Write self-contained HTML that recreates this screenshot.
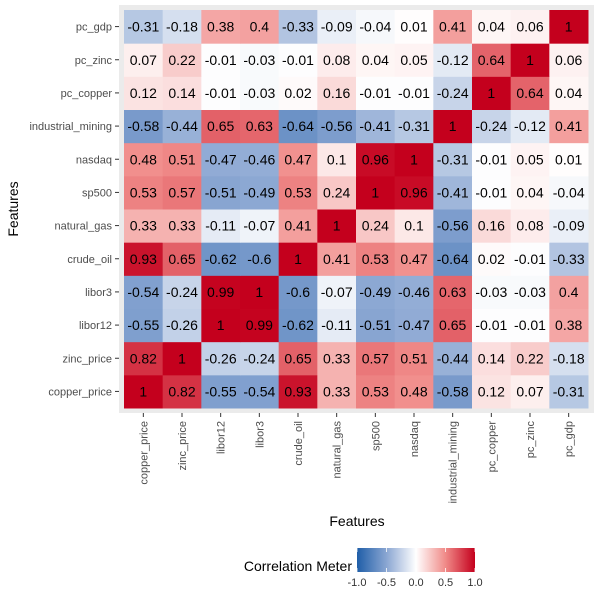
<!DOCTYPE html>
<html><head><meta charset="utf-8"><style>
body{margin:0;background:#fff;}
svg{font-family:"Liberation Sans",Arial,sans-serif;}
</style></head><body>
<svg id="chart" width="600" height="600">
<rect x="119" y="5" width="475" height="408" fill="#ebebeb"/>
<g id="cells"></g><g id="xticks"></g><g id="yticks"></g>
<text x="357" y="526" font-size="14" text-anchor="middle" fill="#000">Features</text>
<text transform="translate(18,209) rotate(-90)" font-size="14" text-anchor="middle" fill="#000">Features</text>
<defs><linearGradient id="lg" x1="0" x2="1" y1="0" y2="0">
<stop offset="0" stop-color="#1f5ea8"/><stop offset="0.25" stop-color="#8aa6d2"/><stop offset="0.5" stop-color="#ffffff"/><stop offset="0.75" stop-color="#f08a88"/><stop offset="1" stop-color="#c4001d"/></linearGradient></defs>
<g>
<text x="352" y="571" font-size="14" text-anchor="end" fill="#000">Correlation Meter</text>
<rect x="357" y="548" width="118" height="24" fill="url(#lg)"/>
<g id="legticks"></g>
</g>
</svg>
<script>
const vars=["copper_price","zinc_price","libor12","libor3","crude_oil","natural_gas","sp500","nasdaq","industrial_mining","pc_copper","pc_zinc","pc_gdp"];
const r_copper_price=[1,0.82,-0.55,-0.54,0.93,0.33,0.53,0.48,-0.58,0.12,0.07,-0.31];
const r_zinc_price=[0.82,1,-0.26,-0.24,0.65,0.33,0.57,0.51,-0.44,0.14,0.22,-0.18];
const r_libor12=[-0.55,-0.26,1,0.99,-0.62,-0.11,-0.51,-0.47,0.65,-0.01,-0.01,0.38];
const r_libor3=[-0.54,-0.24,0.99,1,-0.6,-0.07,-0.49,-0.46,0.63,-0.03,-0.03,0.4];
const r_crude_oil=[0.93,0.65,-0.62,-0.6,1,0.41,0.53,0.47,-0.64,0.02,-0.01,-0.33];
const r_natural_gas=[0.33,0.33,-0.11,-0.07,0.41,1,0.24,0.1,-0.56,0.16,0.08,-0.09];
const r_sp500=[0.53,0.57,-0.51,-0.49,0.53,0.24,1,0.96,-0.41,-0.01,0.04,-0.04];
const r_nasdaq=[0.48,0.51,-0.47,-0.46,0.47,0.1,0.96,1,-0.31,-0.01,0.05,0.01];
const r_industrial_mining=[-0.58,-0.44,0.65,0.63,-0.64,-0.56,-0.41,-0.31,1,-0.24,-0.12,0.41];
const r_pc_copper=[0.12,0.14,-0.01,-0.03,0.02,0.16,-0.01,-0.01,-0.24,1,0.64,0.04];
const r_pc_zinc=[0.07,0.22,-0.01,-0.03,-0.01,0.08,0.04,0.05,-0.12,0.64,1,0.06];
const r_pc_gdp=[-0.31,-0.18,0.38,0.4,-0.33,-0.09,-0.04,0.01,0.41,0.04,0.06,1];
const rows=[r_copper_price,r_zinc_price,r_libor12,r_libor3,r_crude_oil,r_natural_gas,r_sp500,r_nasdaq,r_industrial_mining,r_pc_copper,r_pc_zinc,r_pc_gdp];
const legendTicks=[-1,-0.5,0,0.5,1];
const legendLabels=["-1.0","-0.5","0.0","0.5","1.0"];

const NS="http://www.w3.org/2000/svg";
const x0=124,x1=588,yTop=10,yBot=408,n=vars.length;
const cw=(x1-x0)/n,ch=(yBot-yTop)/n;
const xs=i=>x0+i*cw;
const ys=j=>yBot-(j+1)*ch;
const lx=v=>357+(v+1)/2*118;
function mix(a,b,t){return a.map((c,i)=>Math.round(c+(b[i]-c)*t));}
function color(v){
  const W=[255,255,255],B=[31,94,168],R=[196,0,29],BM=[138,166,210],RM=[240,138,136];
  const t=Math.abs(v);let c;
  if(v>=0) c=t<0.5?mix(W,RM,t/0.5):mix(RM,R,(t-0.5)/0.5);
  else c=t<0.5?mix(W,BM,t/0.5):mix(BM,B,(t-0.5)/0.5);
  return `rgb(${c.join(',')})`;
}
function el(tag,attrs,parent){const e=document.createElementNS(NS,tag);for(const k in attrs)e.setAttribute(k,attrs[k]);parent.appendChild(e);return e;}
const gc=document.getElementById('cells'),gx=document.getElementById('xticks'),gy=document.getElementById('yticks'),gl=document.getElementById('legticks');
for(let j=0;j<n;j++){for(let i=0;i<n;i++){
  const v=rows[j][i];
  const r=el('rect',{x:xs(i),y:ys(j),width:cw+0.5,height:ch+0.5,fill:color(v)},gc);
  
  
  const t=el('text',{x:xs(i)+cw/2,y:ys(j)+ch/2+5,'font-size':14,'text-anchor':'middle',fill:'#000'},gc);
  t.textContent=String(v);
  
  
}}
vars.forEach((name,i)=>{
  const cx=xs(i)+cw/2;
  el('line',{x1:cx,x2:cx,y1:413,y2:417,stroke:'#333','stroke-width':1},gx);
  const t=el('text',{transform:`translate(${cx+4},421) rotate(-90)`,'font-size':11,'text-anchor':'end',fill:'#4d4d4d'},gx);
  t.textContent=name;
  
  
  const cy=ys(i)+ch/2;
  el('line',{x1:115,x2:119,y1:cy,y2:cy,stroke:'#333','stroke-width':1},gy);
  const u=el('text',{x:112,y:cy+4,'font-size':11,'text-anchor':'end',fill:'#4d4d4d'},gy);
  u.textContent=name;
  
  
});
legendTicks.forEach((v,k)=>{
  el('line',{x1:lx(v),x2:lx(v),y1:548,y2:552,stroke:'#fff','stroke-width':0.8},gl);
  el('line',{x1:lx(v),x2:lx(v),y1:568,y2:572,stroke:'#fff','stroke-width':0.8},gl);
  const t=el('text',{x:lx(v),y:586,'font-size':11,'text-anchor':'middle',fill:'#333'},gl);
  t.textContent=legendLabels[k];
  
  
});
</script>
</body></html>
